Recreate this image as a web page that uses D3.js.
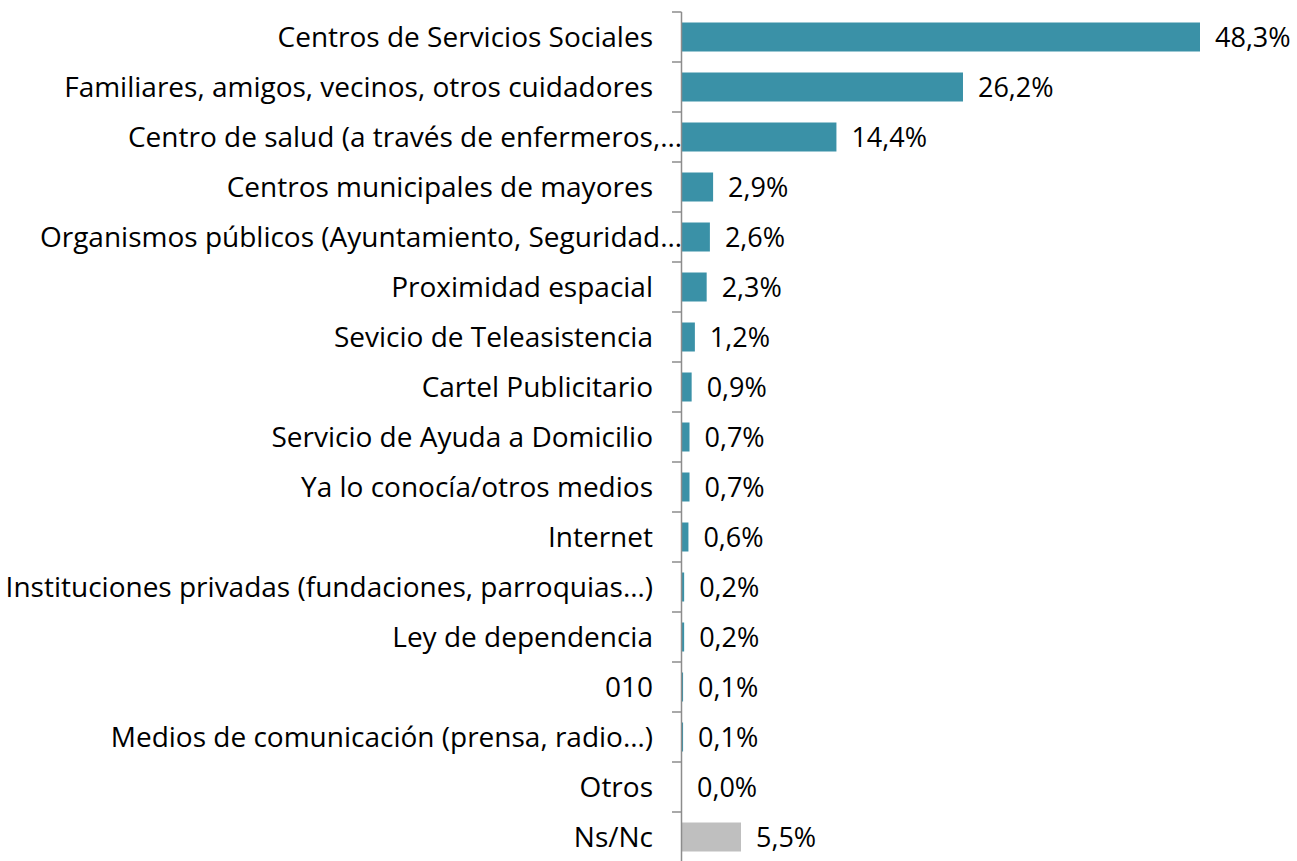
<!DOCTYPE html>
<html>
<head>
<meta charset="utf-8">
<script src="https://cdn.jsdelivr.net/npm/d3@7"></script>
<style>
  body { margin: 0; background: #fff; }
  text { font-family: "Open Sans", Lato, sans-serif; fill: #000; }
</style>
</head>
<body>
<svg width="1297" height="861"></svg>
<script>
const categories = [
  'Centros de Servicios Sociales',
  'Familiares, amigos, vecinos, otros cuidadores',
  'Centro de salud (a través de enfermeros,…',
  'Centros municipales de mayores',
  'Organismos públicos (Ayuntamiento, Seguridad…',
  'Proximidad espacial',
  'Sevicio de Teleasistencia',
  'Cartel Publicitario',
  'Servicio de Ayuda a Domicilio',
  'Ya lo conocía/otros medios',
  'Internet',
  'Instituciones privadas (fundaciones, parroquias…)',
  'Ley de dependencia',
  '010',
  'Medios de comunicación (prensa, radio…)',
  'Otros',
  'Ns/Nc'
];
const values = [48.3, 26.2, 14.4, 2.9, 2.6, 2.3, 1.2, 0.9, 0.7, 0.7, 0.6, 0.2, 0.2, 0.1, 0.1, 0.0, 5.5];
const greyCategories = ['Ns/Nc'];

const data = categories.map((c, i) => ({ cat: c, val: values[i] }));

const svg = d3.select('svg');
const width = +svg.attr('width');
const height = +svg.attr('height');

const margin = { top: 12, left: 682 };

const xScale = d3.scaleLinear()
  .domain([0, 48.3])
  .range([margin.left, 1200]);

const yScale = d3.scaleBand()
  .domain(categories)
  .range([margin.top, margin.top + 50 * categories.length])
  .paddingInner(0.42)
  .paddingOuter(0.21);

const fmt = v => d3.format('.1f')(v).replace('.', ',') + '%';

// bars
svg.selectAll('rect.bar').data(data)
  .enter().append('rect')
    .attr('class', 'bar')
    .attr('x', xScale(0))
    .attr('y', d => yScale(d.cat))
    .attr('width', d => xScale(d.val) - xScale(0))
    .attr('height', yScale.bandwidth())
    .attr('fill', d => greyCategories.includes(d.cat) ? '#bfbfbf' : '#3a91a7');

// axis line with ticks at band boundaries
const step = yScale.step();
const boundaries = d3.range(categories.length).map(i => margin.top + i * step);
svg.append('line')
  .attr('x1', margin.left - 0.5).attr('x2', margin.left - 0.5)
  .attr('y1', margin.top).attr('y2', height)
  .attr('stroke', '#8c8c8c').attr('stroke-width', 1.5);
svg.selectAll('line.tick').data(boundaries)
  .enter().append('line')
    .attr('class', 'tick')
    .attr('x1', margin.left - 10).attr('x2', margin.left - 0.5)
    .attr('y1', d => d).attr('y2', d => d)
    .attr('stroke', '#8c8c8c').attr('stroke-width', 1.5);

// category labels
svg.selectAll('text.cat').data(data)
  .enter().append('text')
    .attr('class', 'cat')
    .attr('x', d => (d.cat.endsWith('…') ? margin.left : 653))
    .attr('y', d => yScale(d.cat) + yScale.bandwidth() / 2)
    .attr('dy', '0.36em')
    .attr('text-anchor', 'end')
    .style('font-size', '28px')
    .text(d => d.cat);

// value labels
svg.selectAll('text.val').data(data)
  .enter().append('text')
    .attr('class', 'val')
    .attr('x', d => xScale(d.val) + 15)
    .attr('y', d => yScale(d.cat) + yScale.bandwidth() / 2)
    .attr('dy', '0.36em')
    .style('font-size', '27px')
    .text(d => fmt(d.val));
</script>
</body>
</html>
